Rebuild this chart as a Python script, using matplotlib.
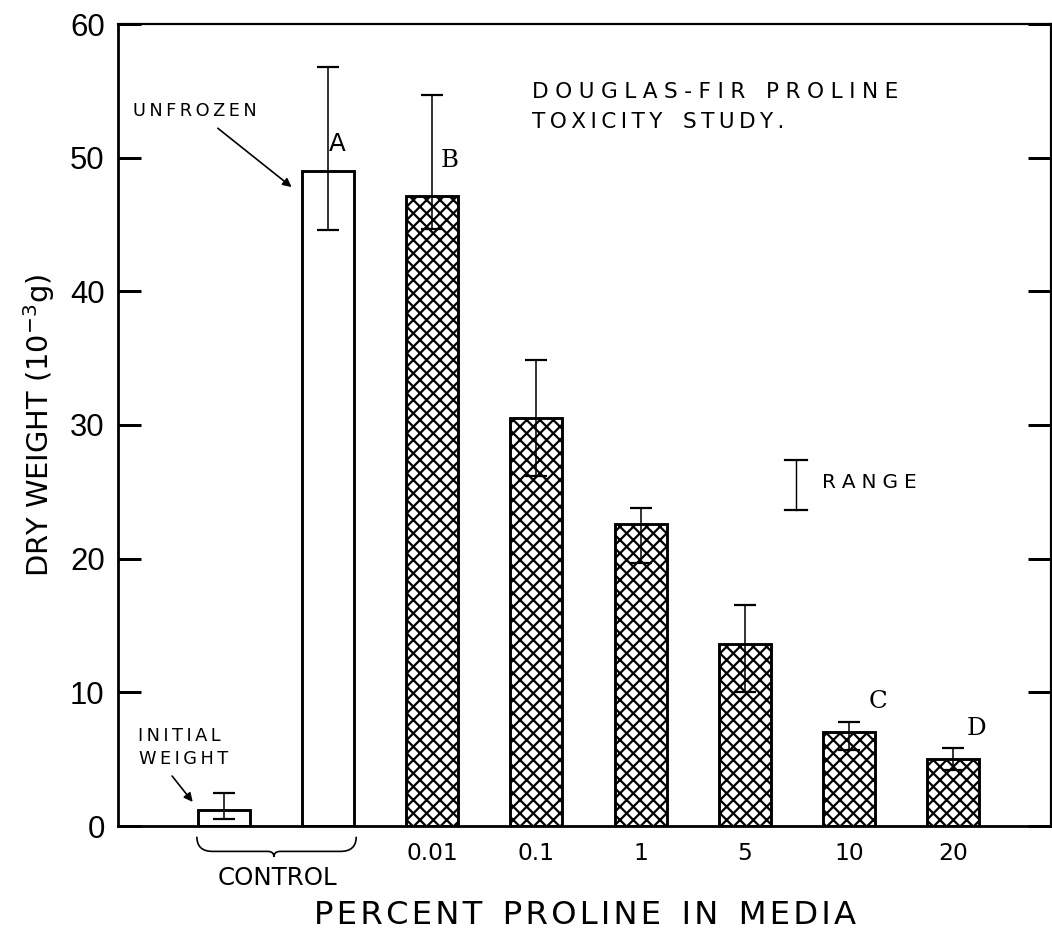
import matplotlib
matplotlib.use("Agg")
import matplotlib.pyplot as plt
from matplotlib.path import Path
from matplotlib.patches import PathPatch
import numpy as np

# ---- data -------------------------------------------------------------
groups = ["Initial weight", "Unfrozen", "0.01", "0.1", "1", "5", "10", "20"]
tick_labels = ["", "", "0.01", "0.1", "1", "5", "10", "20"]
dry_weight = [1.2, 49.0, 47.1, 30.5, 22.6, 13.6, 7.0, 5.0]
range_low = [0.5, 44.6, 44.7, 26.2, 19.7, 10.0, 5.7, 4.2]
range_high = [2.5, 56.8, 54.7, 34.9, 23.8, 16.5, 7.8, 5.8]
proline_treated = [False, False, True, True, True, True, True, True]
letters = ["", "A", "B", "", "", "", "C", "D"]
y_ticks = [0, 10, 20, 30, 40, 50, 60]

plt.rcParams["hatch.linewidth"] = 2.0
plt.rcParams["font.family"] = "DejaVu Sans"
THIN = "\u2009"
HAIR = "\u200a"


def spaced(s, gap=THIN):
    return gap.join(s)


x = np.arange(len(groups))
low_err = [v - lo for v, lo in zip(dry_weight, range_low)]
high_err = [hi - v for v, hi in zip(dry_weight, range_high)]

fig = plt.figure(figsize=(1052 / 80, 933 / 80), dpi=80)
ax = fig.add_axes([118 / 1052, 107 / 933, 933 / 1052, 802 / 933])

bars = ax.bar(x, dry_weight, width=0.5, color="white", edgecolor="black",
              linewidth=2.6, zorder=2)
for b, treated in zip(bars, proline_treated):
    if treated:
        b.set_hatch("xx")

ax.errorbar(x, dry_weight, yerr=[low_err, high_err], fmt="none",
            ecolor="black", elinewidth=1.4, capsize=10, capthick=2, zorder=3)

ax.set_xlim(-1.017, 7.94)
ax.set_ylim(0, 60)
ax.set_yticks(y_ticks)
ax.set_yticklabels([str(t) for t in y_ticks])
ax.tick_params(axis="y", direction="in", length=21, width=2.7, labelsize=28,
               pad=12, right=True, labelright=False)
for lab in ax.get_yticklabels():
    lab.set_family("Liberation Sans")

ax.set_xticks(x[2:])
ax.set_xticklabels(tick_labels[2:])
ax.tick_params(axis="x", length=0, pad=14, labelsize=21)

for side, lw in [("left", 2.5), ("bottom", 2.5), ("top", 2.0), ("right", 2.0)]:
    ax.spines[side].set_linewidth(lw)

# axis titles
ax.set_xlabel("  ".join(spaced(w, HAIR) for w in ["PERCENT", "PROLINE", "IN", "MEDIA"]),
              fontsize=29)
ax.xaxis.set_label_coords(0.5005, -0.112)
ax.xaxis.label.set_va("center")
ax.set_ylabel("DRY WEIGHT (10$^{-3}$g)", fontsize=26)
ax.yaxis.set_label_coords(-0.0847, 0.5)
ax.yaxis.label.set_va("center")

# brace grouping the two control bars
xl, xr = x[0] - 0.26, x[1] + 0.27
xm = (x[0] + x[1]) / 2 - 0.02
y0, y1, y2 = -0.8, -1.9, -2.3
verts = [(xl, y0), (xl, y1), (xl + 0.15, y1),
         (xm - 0.06, y1),
         (xm, y1), (xm, y2),
         (xm, y1), (xm + 0.06, y1),
         (xr - 0.15, y1),
         (xr, y1), (xr, y0)]
codes = [Path.MOVETO, Path.CURVE3, Path.CURVE3,
         Path.LINETO,
         Path.CURVE3, Path.CURVE3,
         Path.CURVE3, Path.CURVE3,
         Path.LINETO,
         Path.CURVE3, Path.CURVE3]
ax.add_patch(PathPatch(Path(verts, codes), fill=False, lw=1.5,
                       edgecolor="black", clip_on=False))
ax.text(xm + 0.03, -3.9, "CONTROL", ha="center", va="center", fontsize=22,
        clip_on=False)

# significance letters
letter_offsets = {1: (0.085, 2.0, "DejaVu Sans"), 2: (0.17, 2.7, "DejaVu Serif"),
                  6: (0.28, 2.3, "DejaVu Serif"), 7: (0.22, 2.3, "DejaVu Serif")}
for i, (dx, dy, fam) in letter_offsets.items():
    ax.text(x[i] + dx, dry_weight[i] + dy, letters[i], ha="center",
            va="center", fontsize=22, family=fam)

# annotations
ax.text(0.016, 0.8915, spaced("UNFROZEN"), transform=ax.transAxes,
        ha="left", va="center", fontsize=16)
ax.annotate("", xy=(x[1] - 0.25 - 0.1, dry_weight[1] - 1.2),
            xytext=(0.107, 0.870), textcoords="axes fraction",
            arrowprops=dict(arrowstyle="-|>", lw=1.5, color="black",
                            mutation_scale=16, shrinkA=0, shrinkB=0))

ax.text(0.0655, 0.1122, spaced("INITIAL"), transform=ax.transAxes,
        ha="center", va="center", fontsize=16)
ax.text(0.0700, 0.0835, spaced("WEIGHT"), transform=ax.transAxes,
        ha="center", va="center", fontsize=16)
ax.annotate("", xy=(x[0] - 0.25 - 0.05, dry_weight[0] + 0.6),
            xytext=(0.058, 0.0623), textcoords="axes fraction",
            arrowprops=dict(arrowstyle="-|>", lw=1.5, color="black",
                            mutation_scale=16, shrinkA=0, shrinkB=0))

WIDE = THIN + HAIR
ax.text(0.4437, 0.915, spaced("DOUGLAS-FIR", WIDE) + "   " + spaced("PROLINE", WIDE),
        transform=ax.transAxes, ha="left", va="center", fontsize=19.5)
ax.text(0.4437, 0.878, spaced("TOXICITY") + "   " + spaced("STUDY."),
        transform=ax.transAxes, ha="left", va="center", fontsize=19.5)

# range key
kx, ky0, ky1 = 0.727, 0.394, 0.456
ax.plot([kx, kx], [ky0, ky1], transform=ax.transAxes, color="black", lw=1.3)
for ky in (ky0, ky1):
    ax.plot([kx - 0.012, kx + 0.012], [ky, ky], transform=ax.transAxes,
            color="black", lw=2)
ax.text(0.7546, 0.4277, spaced("RANGE", WIDE), transform=ax.transAxes,
        ha="left", va="center", fontsize=18)

fig.savefig("out.png", dpi=80, facecolor="white")
